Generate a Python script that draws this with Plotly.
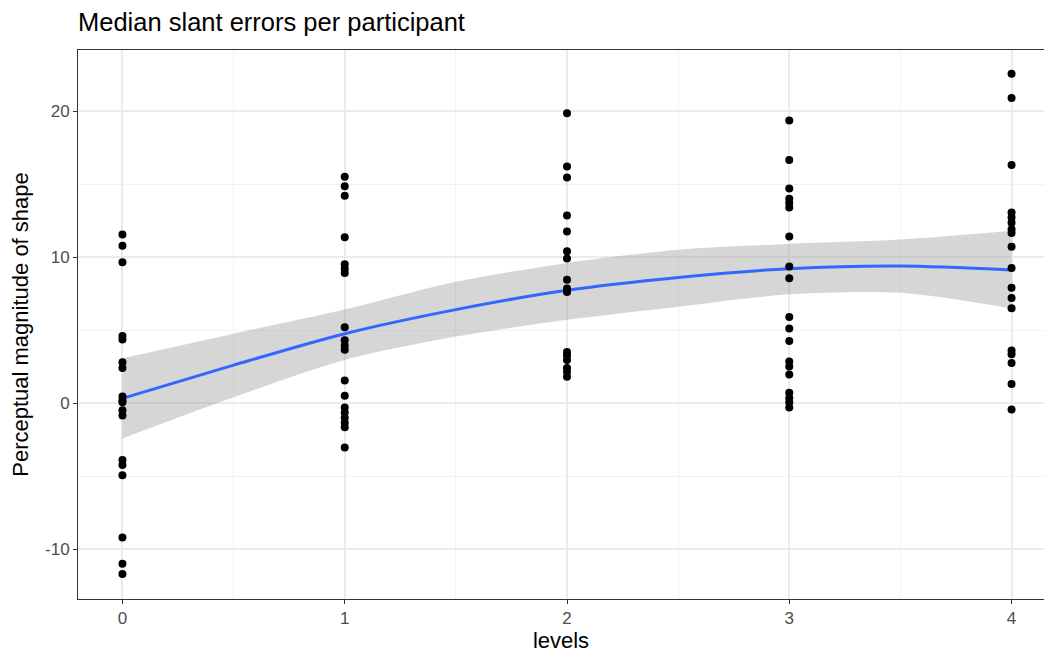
import plotly.graph_objects as go

# Median slant error per participant at each level
levels = [0, 1, 2, 3, 4]
level_0 = [11.55, 10.78, 9.65, 4.6, 4.35, 2.8, 2.4, 0.45, 0.2, 0.05, -0.5, -0.85,
           -3.9, -4.25, -4.95, -9.2, -11.0, -11.7]
level_1 = [15.5, 14.85, 14.2, 11.35, 9.5, 9.2, 8.9, 5.2, 4.3, 3.95, 3.65, 1.55,
           0.5, -0.3, -0.65, -1.0, -1.35, -1.65, -3.05]
level_2 = [19.85, 16.2, 15.45, 12.85, 11.75, 10.4, 9.9, 8.45, 7.85, 7.6, 3.5,
           3.25, 2.95, 2.4, 2.15, 1.8]
level_3 = [19.35, 16.65, 14.7, 14.0, 13.7, 13.4, 11.4, 9.35, 8.55, 5.9, 5.1,
           4.25, 2.85, 2.5, 1.95, 0.7, 0.35, 0.05, -0.3]
level_4 = [22.55, 20.9, 16.3, 13.05, 12.7, 12.35, 11.9, 11.65, 10.7, 9.25, 7.9,
           7.2, 6.5, 3.6, 3.35, 2.75, 1.3, -0.45]

# Smoothed trend with its confidence band
smooth_x = [0, 0.5, 1, 1.5, 2, 2.5, 3, 3.5, 4]
smooth_fit = [0.32, 2.6, 4.75, 6.4, 7.72, 8.6, 9.2, 9.38, 9.11]
smooth_upper = [3.06, 4.75, 6.4, 8.3, 9.6, 10.5, 10.9, 11.2, 11.8]
smooth_lower = [-2.42, 0.4, 2.95, 4.55, 5.7, 6.6, 7.45, 7.55, 6.48]

x_title = "levels"
y_title = "Perceptual magnitude of shape"
chart_title = "Median slant errors per participant"

FONT = "Liberation Sans, Arial, sans-serif"

series = [level_0, level_1, level_2, level_3, level_4]
pts_x, pts_y = [], []
for lv, vals in zip(levels, series):
    pts_x += [lv] * len(vals)
    pts_y += vals

fig = go.Figure()

# band: lower edge, then upper edge filled down to it
fig.add_trace(go.Scatter(
    x=smooth_x, y=smooth_lower, mode="lines",
    line=dict(width=0, shape="spline", smoothing=0.8, color="rgba(0,0,0,0)"),
    hoverinfo="skip", showlegend=False,
))
fig.add_trace(go.Scatter(
    x=smooth_x, y=smooth_upper, mode="lines",
    fill="tonexty", fillcolor="rgba(153,153,153,0.4)",
    line=dict(width=0, shape="spline", smoothing=0.8, color="rgba(0,0,0,0)"),
    hoverinfo="skip", showlegend=False,
))
fig.add_trace(go.Scatter(
    x=smooth_x, y=smooth_fit, mode="lines",
    line=dict(color="#3366FF", width=3, shape="spline", smoothing=0.8),
    showlegend=False,
))
fig.add_trace(go.Scatter(
    x=pts_x, y=pts_y, mode="markers",
    marker=dict(color="black", size=8, line=dict(width=0)),
    showlegend=False,
))

axis_common = dict(
    showline=True, mirror=True, linecolor="#333333", linewidth=1,
    ticks="outside", ticklen=4, tickcolor="#333333", tickwidth=1,
    showgrid=True, gridcolor="#EBEBEB", gridwidth=1.5,
    zeroline=False,
    tickfont=dict(family=FONT, size=17, color="#4D4D4D"),
    title_font=dict(family=FONT, size=22, color="black"),
)

fig.update_xaxes(
    range=[-0.2, 4.146], tickvals=levels, ticktext=[str(v) for v in levels],
    minor=dict(dtick=0.5, tick0=0.5, showgrid=True, gridcolor="#F2F2F2", gridwidth=1, ticks=""),
    title_text=x_title, title_standoff=4,
    **axis_common,
)
fig.update_yaxes(
    range=[-13.42, 24.18], tickvals=[-10, 0, 10, 20], ticktext=["-10", "0", "10", "20"],
    minor=dict(dtick=5, tick0=5, showgrid=True, gridcolor="#F2F2F2", gridwidth=1, ticks=""),
    title_text=y_title, title_standoff=10,
    **axis_common,
)

fig.update_layout(
    width=1044, height=653,
    margin=dict(l=78, r=0, t=50, b=54),
    plot_bgcolor="white", paper_bgcolor="white",
    title=dict(text=chart_title, x=78 / 1044, xanchor="left", y=1 - 22 / 653, yanchor="middle",
               font=dict(family=FONT, size=25.5, color="black")),
)

fig.write_html("out.html")
